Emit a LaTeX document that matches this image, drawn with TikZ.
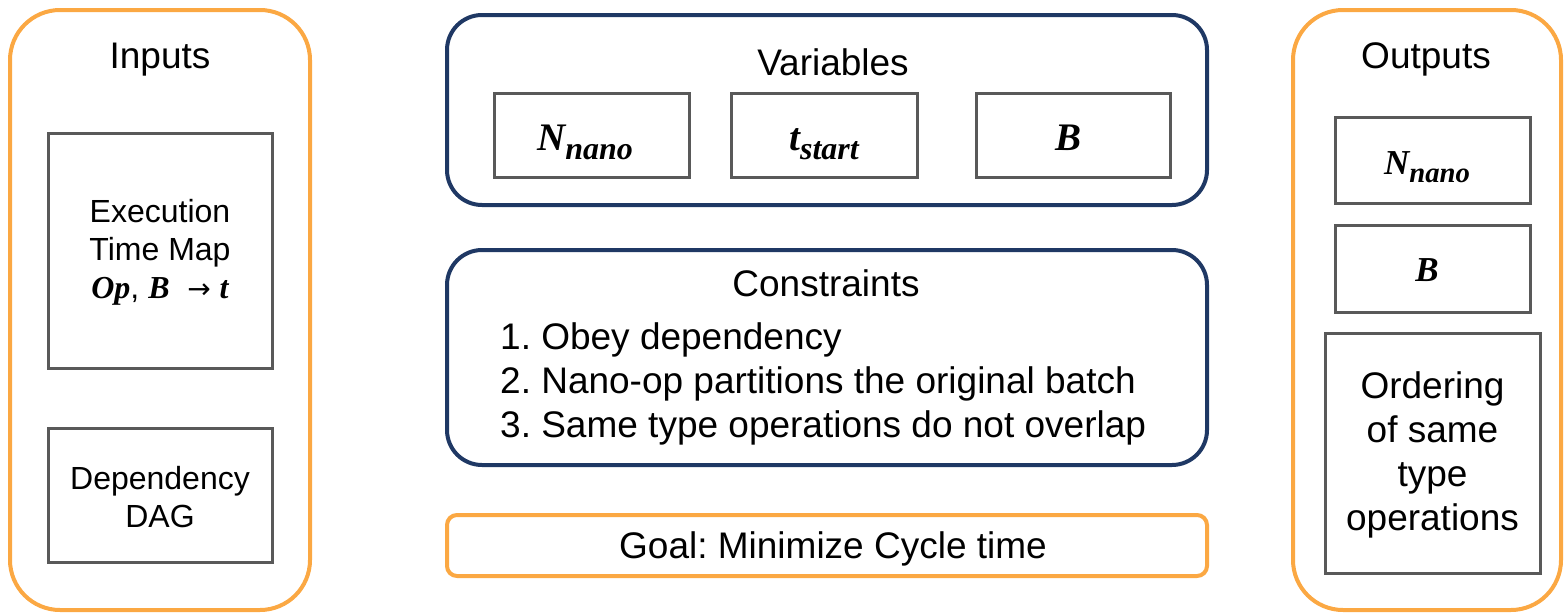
\documentclass[tikz,border=0pt]{standalone}
\usepackage{fontspec}
\setmainfont{Liberation Sans}
\newfontfamily\varfont{Liberation Serif}[BoldItalicFont={Liberation Serif Bold Italic}]
\newfontfamily\arrowfont{DejaVu Sans}
\frenchspacing
% bold italic variable with a lowered, smaller subscript
\newcommand{\vsym}[1]{{\varfont\bfseries\itshape #1}}
\newcommand{\vsub}[2]{{\varfont\bfseries\itshape #1\raisebox{-0.25em}{\fontsize{0.82em}{0.82em}\selectfont #2}}}
\definecolor{boxorange}{HTML}{FBA843}
\definecolor{boxnavy}{HTML}{1F3864}
\definecolor{boxgray}{HTML}{595959}
\tikzset{
  groupbox/.style={draw=boxorange, line width=4pt, rounded corners=50pt, inner sep=0pt},
  panelbox/.style={draw=boxnavy, line width=4pt, rounded corners=35pt, inner sep=0pt},
  goalbox/.style={draw=boxorange, line width=4pt, rounded corners=10pt, inner sep=0pt},
  itembox/.style={draw=boxgray, line width=3pt, inner sep=0pt},
  bigtext/.style={font=\fontsize{37}{44}\selectfont, inner sep=0pt},
  smalltext/.style={font=\fontsize{32}{38}\selectfont, inner sep=0pt, align=center},
  vartext/.style={font=\fontsize{39}{44}\selectfont, inner sep=0pt},
  outvartext/.style={font=\fontsize{35}{40}\selectfont, inner sep=0pt},
}
\begin{document}
\begin{tikzpicture}[x=1pt, y=-1pt]
\useasboundingbox (0,0) rectangle (1564,613);

% Inputs column
\node[groupbox, minimum width=300pt, minimum height=600pt] (inputs) at (160,310) {};
\node[bigtext, anchor=base] (inputsT) at (160,68) {Inputs};
\node[itembox, minimum width=224pt, minimum height=235pt] (exec) at (160,250.5) {};
\node[smalltext] (execT) at (160,252) {Execution\\Time Map\\\vsym{Op}, \vsym{B}\ \ {\arrowfont\fontsize{28}{30}\selectfont →} \vsym{t}};
\node[itembox, minimum width=224pt, minimum height=134pt] (dag) at (160,495) {};
\node[smalltext] (dagT) at (160,497) {Dependency\\DAG};

% Variables panel
\node[panelbox, minimum width=760pt, minimum height=190pt] (vars) at (827,110) {};
\node[bigtext, anchor=base] (varsT) at (833,75) {Variables};
\node[itembox, minimum width=195pt, minimum height=84pt] (vN) at (591.5,135) {};
\node[vartext, anchor=base] (vNT) at (585,150) {\vsub{N}{nano}};
\node[itembox, minimum width=186pt, minimum height=84pt] (vT) at (824,135) {};
\node[vartext, anchor=base] (vTT) at (824,150) {\vsub{t}{start}};
\node[itembox, minimum width=194pt, minimum height=84pt] (vB) at (1073,135) {};
\node[vartext, anchor=base] (vBT) at (1068,150) {\vsym{B}};

% Constraints panel
\node[panelbox, minimum width=760pt, minimum height=215pt] (cons) at (827,357.5) {};
\node[bigtext, anchor=base] (consT) at (826,296) {Constraints};
\node[bigtext, anchor=west, align=left] (consL) at (500,384) {1. Obey dependency\\2. Nano-op partitions the original batch\\3. Same type operations do not overlap};

% Goal
\node[goalbox, minimum width=760pt, minimum height=61pt] (goal) at (827,545.5) {};
\node[bigtext, anchor=base] (goalT) at (833,558) {Goal: Minimize Cycle time};

% Outputs column
\node[groupbox, minimum width=268pt, minimum height=600pt] (outputs) at (1427,310) {};
\node[bigtext, anchor=base] (outputsT) at (1426,68) {Outputs};
\node[itembox, minimum width=195pt, minimum height=86pt] (oN) at (1432.5,160) {};
\node[outvartext, anchor=base] (oNT) at (1427,174) {\vsub{N}{nano}};
\node[itembox, minimum width=195pt, minimum height=87pt] (oB) at (1432.5,268.5) {};
\node[outvartext, anchor=base] (oBT) at (1427,281) {\vsym{B}};
\node[itembox, minimum width=215pt, minimum height=240pt] (ord) at (1432.5,453) {};
\node[bigtext, align=center] (ordT) at (1432.5,455) {Ordering\\of same\\type\\operations};
\end{tikzpicture}
\end{document}
